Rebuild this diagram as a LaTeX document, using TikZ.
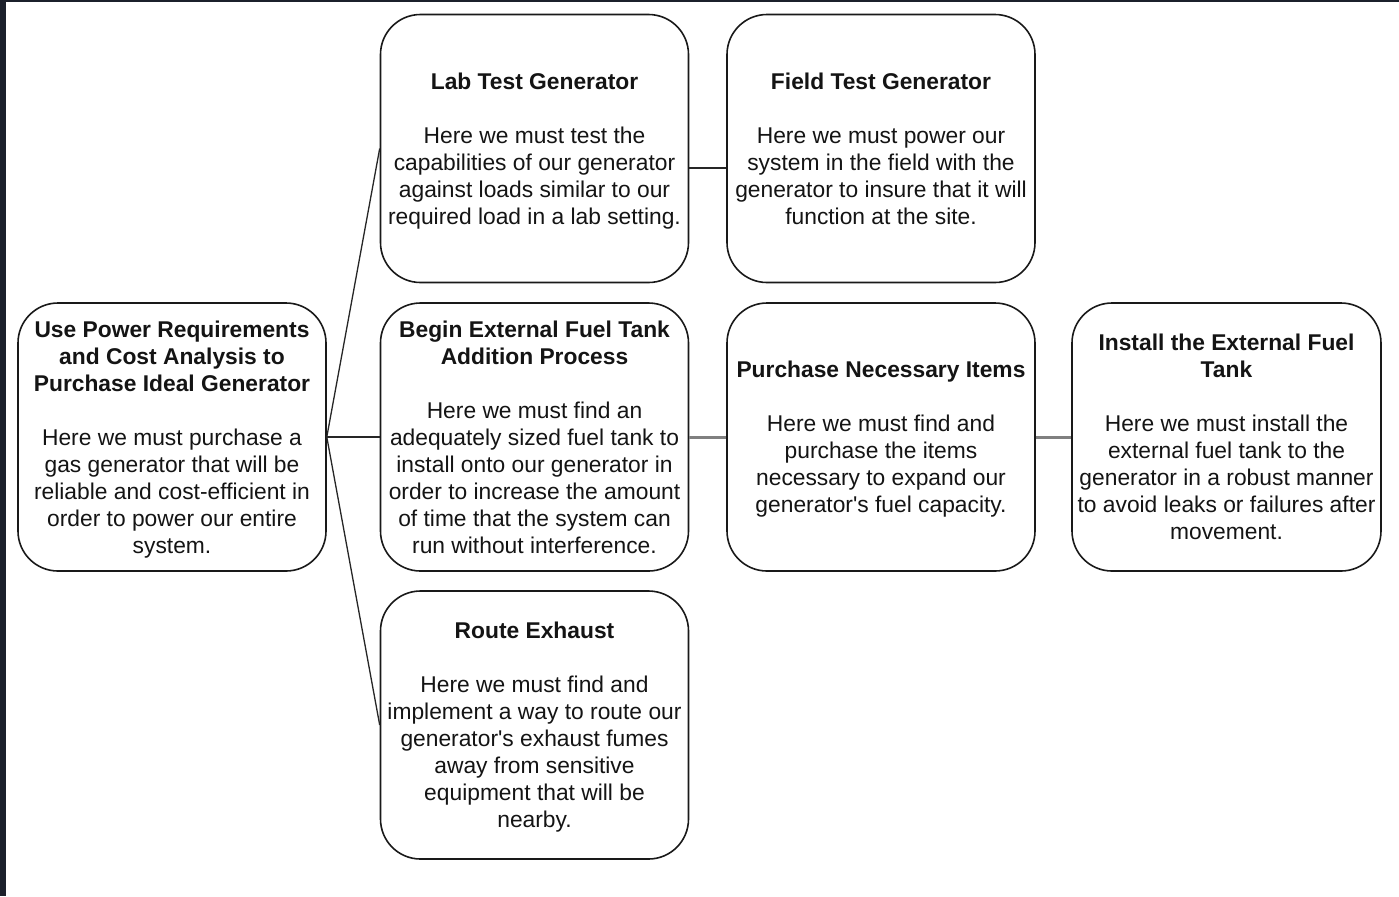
\documentclass[tikz,border=0pt]{standalone}
\usepackage{fontspec}
\setmainfont{Liberation Sans}[Ligatures=TeXOff]
\begin{document}
\begin{tikzpicture}[x=0.5pt,y=-0.5pt,
  card/.style={draw=black!90, line width=0.8pt, rounded corners=20pt,
    minimum width=154pt, minimum height=134pt, inner sep=0pt, align=center,
    font=\fontsize{11.4}{13.5}\selectfont, text=black!92,
    text depth=-0.4pt},
  link/.style={draw=black!85, line width=0.65pt},
  softlink/.style={draw=black!50, line width=1.5pt}]
  % page and dark window frame
  \fill[white] (0,0) rectangle (1399,896);
  \fill[fill={rgb,255:red,27;green,32;blue,43}] (0,0) rectangle (6,896);
  \fill[fill={rgb,255:red,27;green,32;blue,43}] (0,0) rectangle (1399,2);
  \useasboundingbox (0,0) rectangle (1399,896);

  % step cards
  \node[card] (use) at (172,437) {\textbf{Use Power Requirements}\\\textbf{and Cost Analysis to}\\\textbf{Purchase Ideal Generator}\\[13.5pt]Here we must purchase a\\gas generator that will be\\reliable and cost-efficient in\\order to power our entire\\system.};
  \node[card] (lab) at (534.5,148.5) {\textbf{Lab Test Generator}\\[13.5pt]Here we must test the\\capabilities of our generator\\against loads similar to our\\required load in a lab setting.};
  \node[card] (field) at (881,148.5) {\textbf{Field Test Generator}\\[13.5pt]Here we must power our\\system in the field with the\\generator to insure that it will\\function at the site.};
  \node[card] (begin) at (534.5,437) {\textbf{Begin External Fuel Tank}\\\textbf{Addition Process}\\[13.5pt]Here we must find an\\adequately sized fuel tank to\\install onto our generator in\\order to increase the amount\\of time that the system can\\run without interference.};
  \node[card] (buy) at (881,437) {\textbf{Purchase Necessary Items}\\[13.5pt]Here we must find and\\purchase the items\\necessary to expand our\\generator's fuel capacity.};
  \node[card, minimum width=154.5pt] (install) at (1226.5,437) {\textbf{Install the External Fuel}\\\textbf{Tank}\\[13.5pt]Here we must install the\\external fuel tank to the\\generator in a robust manner\\to avoid leaks or failures after\\movement.};
  \node[card] (route) at (534.5,725) {\textbf{Route Exhaust}\\[13.5pt]Here we must find and\\implement a way to route our\\generator's exhaust fumes\\away from sensitive\\equipment that will be\\nearby.};

  % connectors
  \draw[link] (use.east) -- (lab.west);
  \draw[link] (use.east) -- (begin.west);
  \draw[link] (use.east) -- (route.west);
  \draw[link] ([yshift=-9.75pt]lab.east) -- ([yshift=-9.75pt]field.west);
  \draw[softlink] (begin.east) -- (buy.west);
  \draw[softlink] (buy.east) -- (install.west);
\end{tikzpicture}
\end{document}
